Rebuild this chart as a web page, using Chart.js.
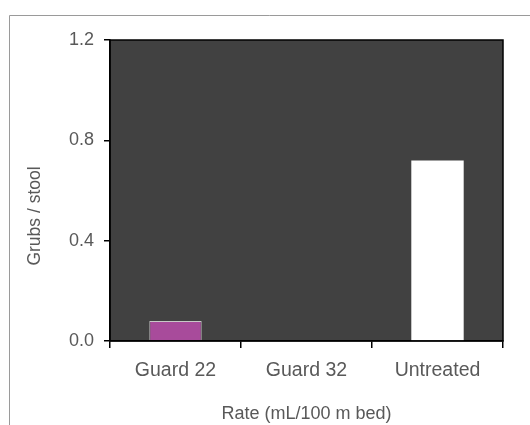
<!DOCTYPE html>
<html>
<head>
<meta charset="utf-8">
<script src="https://cdn.jsdelivr.net/npm/chart.js@4.4.1/dist/chart.umd.min.js"></script>
<style>
  html, body { margin: 0; padding: 0; background: #ffffff; }
  #wrap { width: 530px; height: 425px; }
</style>
</head>
<body>
<div id="wrap"><canvas id="grubsChart" width="530" height="425"></canvas></div>
<script>
// Datos del gráfico
const categories = ['Guard 22', 'Guard 32', 'Untreated'];
const grubsPerStool = [0.08, 0, 0.72];
const barColors = ['#a84b9b', '#7b3294', '#ffffff'];
const yTicks = [0, 0.4, 0.8, 1.2];

const textColor = '#595959';
const fontFamily = '"Liberation Sans", Arial, Helvetica, sans-serif';

// Fondo del panel, borde negro y marco gris exterior
const panelPlugin = {
    id: 'panel',
    beforeDraw(chart) {
        const { ctx, chartArea: { left, top, right, bottom } } = chart;
        ctx.save();
        ctx.fillStyle = '#414141';
        ctx.fillRect(left, top, right - left, bottom - top);
        // marco exterior
        ctx.strokeStyle = '#9a9a9a';
        ctx.lineWidth = 1;
        ctx.beginPath();
        ctx.moveTo(9.5, 425);
        ctx.lineTo(9.5, 15.5);
        ctx.lineTo(530, 15.5);
        ctx.stroke();
        ctx.restore();
    },
    afterDraw(chart) {
        const { ctx, chartArea: { left, top, right, bottom } } = chart;
        ctx.save();
        ctx.strokeStyle = '#000000';
        ctx.lineWidth = 1.5;
        ctx.strokeRect(left, top, right - left, bottom - top);
        // título del eje y
        ctx.fillStyle = textColor;
        ctx.font = '17.5px ' + fontFamily;
        ctx.textAlign = 'center';
        ctx.textBaseline = 'middle';
        ctx.translate(35, 216);
        ctx.rotate(-Math.PI / 2);
        ctx.fillText('Grubs / stool', 0, 0);
        ctx.restore();
    }
};

new Chart(document.getElementById('grubsChart'), {
    type: 'bar',
    data: {
        labels: categories,
        datasets: [{
            data: grubsPerStool,
            backgroundColor: barColors,
            borderColor: '#c8c8c8',
            borderWidth: [1, 0, 0],
            borderSkipped: 'start',
            categoryPercentage: 1,
            barPercentage: 0.4
        }]
    },
    options: {
        responsive: false,
        animation: false,
        layout: { padding: { left: 0, top: 40, right: 27, bottom: 0 } },
        plugins: {
            legend: { display: false },
            tooltip: { enabled: false }
        },
        scales: {
            x: {
                offset: true,
                border: { display: true, color: '#000000', width: 1.5 },
                grid: {
                    offset: true,
                    drawOnChartArea: false,
                    drawTicks: true,
                    tickLength: 7,
                    color: '#000000',
                    lineWidth: 1.5
                },
                ticks: {
                    color: textColor,
                    font: { family: fontFamily, size: 19.5 },
                    padding: 11
                },
                title: {
                    display: true,
                    text: 'Rate (mL/100 m bed)',
                    color: textColor,
                    font: { family: fontFamily, size: 18 },
                    padding: { top: 6, bottom: 0 }
                },
                afterFit(scale) { scale.height = 84; }
            },
            y: {
                min: 0,
                max: 1.2,
                border: { display: true, color: '#000000', width: 1.5 },
                grid: {
                    drawOnChartArea: false,
                    drawTicks: true,
                    tickLength: 6,
                    color: '#000000',
                    lineWidth: 1.5
                },
                afterBuildTicks(scale) {
                    scale.ticks = yTicks.map(v => ({ value: v }));
                },
                ticks: {
                    color: textColor,
                    font: { family: fontFamily, size: 18 },
                    padding: 10,
                    callback: v => Number(v).toFixed(1)
                },
                afterFit(scale) { scale.width = 110; }
            }
        }
    },
    plugins: [panelPlugin]
});
</script>
</body>
</html>
